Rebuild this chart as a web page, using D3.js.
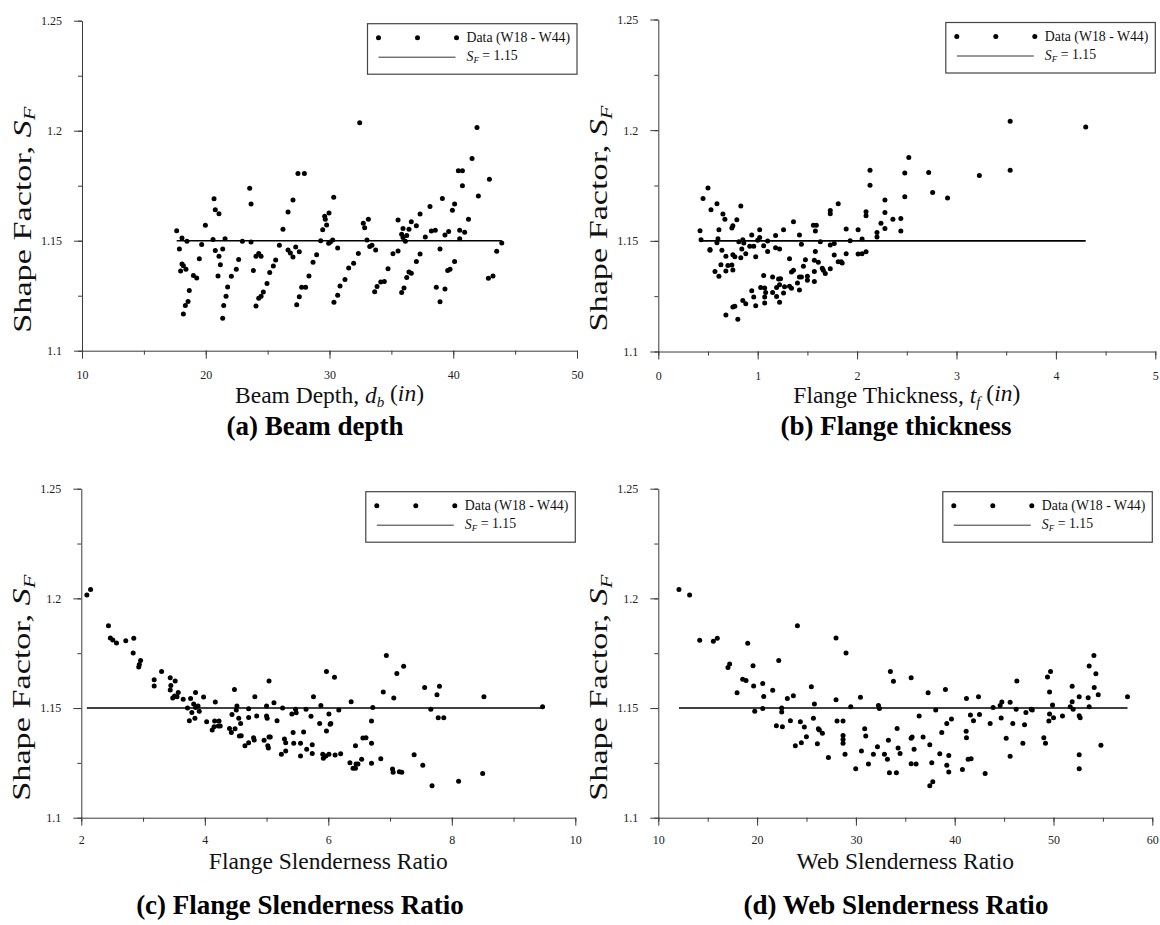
<!DOCTYPE html>
<html>
<head>
<meta charset="utf-8">
<script src="https://cdn.jsdelivr.net/npm/d3@7"></script>
<style>
  body { margin: 0; background: #fff; }
  svg { display: block; font-family: "Liberation Serif", "Times New Roman", serif; }
</style>
</head>
<body>
<svg id="chart" width="1160" height="925"></svg>
<script>
// ---- Shape factor data, W18 - W44 sections ----
// (a) beam depth d_b (in)
const depthX = [17.65,17.87,18.08,17.97,18.08,18.19,18.19,18.40,18.35,18.48,18.57,18.67,19.00,19.27,19.48,19.67,19.97,
  20.59,20.77,20.67,20.77,21.07,21.07,21.18,20.99,21.37,21.56,21.45,21.37,21.64,21.77,22.07,22.47,22.66,22.96,
  23.55,23.66,23.66,23.85,24.06,24.06,24.28,24.47,24.28,24.47,24.65,24.95,25.17,25.46,25.65,25.95,26.24,
  26.65,27.05,26.65,26.84,27.05,27.27,27.56,27.45,27.97,27.35,27.56,27.75,28.07,28.34,28.67,28.96,29.29,
  29.45,29.61,29.66,29.77,29.96,29.93,30.07,30.26,30.34,30.66,30.36,30.66,30.85,31.25,31.55,31.95,32.33,32.44,
  32.73,32.84,33.14,33.03,33.25,33.43,33.73,33.65,33.84,34.14,34.43,34.73,35.13,35.54,35.54,
  35.83,35.94,35.94,36.13,36.24,36.42,36.61,37.02,37.32,35.83,36.02,36.24,36.42,36.61,37.02,37.32,37.74,38.12,
  38.23,38.55,38.93,39.12,38.63,38.93,39.33,39.33,39.63,39.55,39.74,40.11,39.93,40.11,40.52,40.52,40.92,40.41,
  40.74,40.74,41.23,41.52,41.92,42.03,42.92,42.84,43.21,43.51,43.92];
const depthSF = [1.1545,1.1462,1.1512,1.1362,1.1394,1.1386,1.1167,1.1370,1.1206,1.1497,1.1224,1.1274,1.1342,1.1330,1.1418,1.1483,1.1570,
  1.1506,1.1455,1.1691,1.1641,1.1623,1.1429,1.1391,1.1339,1.1462,1.1509,1.1206,1.1147,1.1247,1.1289,1.1338,1.1370,1.1415,1.1497,
  1.1738,1.1667,1.1494,1.1364,1.1203,1.1429,1.1442,1.1429,1.1238,1.1247,1.1267,1.1305,1.1356,1.1385,1.1412,1.1479,1.1552,
  1.1630,1.1685,1.1458,1.1444,1.1426,1.1471,1.1450,1.1806,1.1806,1.1209,1.1245,1.1288,1.1288,1.1339,1.1402,1.1436,1.1500,
  1.1550,1.1611,1.1598,1.1571,1.1626,1.1488,1.1494,1.1503,1.1697,1.1467,1.1220,1.1252,1.1294,1.1324,1.1376,1.1397,1.1442,1.2036,
  1.1579,1.1559,1.1598,1.1503,1.1474,1.1479,1.1458,1.1268,1.1292,1.1312,1.1315,1.1373,1.1441,1.1453,1.1594,
  1.1529,1.1555,1.1515,1.1497,1.1524,1.1552,1.1586,1.1568,1.1621,1.1265,1.1285,1.1333,1.1358,1.1352,1.1406,1.1439,1.1517,1.1656,
  1.1544,1.1548,1.1462,1.1692,1.1288,1.1223,1.1280,1.1526,1.1542,1.1364,1.1370,1.1406,1.1638,1.1667,1.1548,1.1509,1.1538,1.1818,
  1.1818,1.1750,1.1597,1.1874,1.2014,1.1703,1.1779,1.1329,1.1339,1.1452,1.1490];

// (b) flange thickness t_f (in)
const flangeTX = [0.42,0.43,0.45,0.50,0.52,0.52,0.53,0.57,0.59,0.59,0.61,0.60,0.61,0.63,0.64,0.65,0.67,0.68,0.68,0.68,
  0.70,0.74,0.75,0.74,0.75,0.75,0.75,0.77,0.77,0.79,0.80,0.81,0.83,0.83,0.84,0.85,0.86,0.85,0.88,0.88,
  0.92,0.94,0.94,0.96,0.96,0.98,0.98,1.00,1.02,1.02,1.03,1.06,1.06,1.07,1.07,1.07,1.08,1.10,1.10,
  1.15,1.15,1.18,1.18,1.19,1.19,1.21,1.22,1.22,1.22,1.23,1.26,1.26,1.27,1.32,1.32,1.34,1.34,1.36,1.36,
  1.40,1.42,1.42,1.42,1.44,1.44,1.46,1.48,1.50,1.50,1.57,1.57,1.57,1.58,1.56,1.59,1.58,1.61,1.63,1.65,1.66,1.68,
  1.73,1.73,1.73,1.73,1.77,1.77,1.81,1.81,1.85,1.84,1.89,1.89,1.93,2.01,2.01,2.05,2.05,2.09,2.09,2.09,
  2.13,2.13,2.20,2.20,2.24,2.28,2.28,2.28,2.36,2.44,2.44,2.48,2.48,2.52,2.72,2.76,2.91,3.23,3.54,3.54,4.30];
const flangeTSF = [1.1546,1.1505,1.1691,1.1739,1.1461,1.1457,1.1640,1.1361,1.1667,1.1491,1.1550,1.1509,1.1340,1.1392,1.1457,1.1621,1.1598,1.1364,1.1165,1.1430,
  1.1389,1.1558,1.1568,1.1391,1.1437,1.1368,1.1201,1.1204,1.1428,1.1595,1.1146,1.1496,1.1657,1.1424,1.1463,1.1505,1.1490,1.1230,1.1216,1.1442,
  1.1475,1.1526,1.1274,1.1246,1.1475,1.1207,1.1428,1.1503,1.1515,1.1550,1.1289,1.1343,1.1478,1.1287,1.1246,1.1219,1.1267,1.1452,1.1499,
  1.1267,1.1337,1.1524,1.1469,1.1249,1.1289,1.1328,1.1222,1.1463,1.1302,1.1329,1.1264,1.1550,1.1292,1.1295,1.1419,1.1286,1.1359,1.1367,1.1586,
  1.1310,1.1278,1.1526,1.1337,1.1484,1.1337,1.1385,1.1415,1.1340,1.1322,1.1316,1.1361,1.1412,1.1452,1.1570,1.1570,1.1544,1.1403,1.1496,1.1376,1.1367,1.1352,
  1.1374,1.1481,1.1622,1.1637,1.1488,1.1436,1.1667,1.1406,1.1400,1.1406,1.1553,1.1442,1.1500,1.1550,1.1440,1.1508,1.1442,1.1631,1.1613,1.1451,
  1.1819,1.1751,1.1538,1.1517,1.1579,1.1685,1.1628,1.1556,1.1598,1.1601,1.1544,1.1806,1.1699,1.1876,1.1809,1.1718,1.1693,1.1795,1.2040,1.1819,1.2014];

// (c) flange slenderness ratio
const flangeSlX = [2.09,2.15,2.44,2.47,2.51,2.57,2.72,2.85,2.84,2.96,2.94,2.93,3.18,3.18,3.30,3.44,3.45,3.44,3.52,3.48,3.51,3.57,3.55,
  3.65,3.77,3.72,3.85,3.82,3.79,3.85,3.89,3.91,3.75,3.84,3.98,4.03,4.17,4.12,4.15,4.16,4.23,4.22,4.25,
  4.40,4.43,4.44,4.48,4.49,4.52,4.51,4.55,4.58,4.56,4.59,4.65,4.71,4.71,4.71,4.81,4.79,4.80,4.84,4.96,
  5.00,5.00,5.01,5.04,5.04,5.06,5.02,5.03,5.12,5.17,5.26,5.24,5.29,5.31,5.31,5.41,5.47,5.48,5.43,5.44,
  5.55,5.55,5.60,5.64,5.65,5.72,5.74,5.74,5.76,5.86,5.88,5.91,5.92,5.96,6.01,5.97,5.97,6.01,6.03,6.04,
  6.10,6.11,6.17,6.20,6.35,6.37,6.40,6.44,6.45,6.48,6.44,6.54,6.56,6.61,6.70,6.70,6.70,6.72,6.85,6.89,6.94,
  7.04,7.05,7.06,7.11,7.15,7.19,7.22,7.39,7.53,7.56,7.66,7.68,7.76,7.80,7.78,7.87,8.11,8.50,8.52,9.47];
const flangeSlSF = [1.2015,1.2040,1.1875,1.1819,1.1810,1.1796,1.1807,1.1818,1.1751,1.1717,1.1699,1.1687,1.1629,1.1600,1.1667,1.1638,1.1603,1.1582,1.1623,1.1546,1.1555,1.1571,1.1552,
  1.1540,1.1543,1.1500,1.1571,1.1518,1.1480,1.1503,1.1509,1.1485,1.1442,1.1453,1.1550,1.1438,1.1527,1.1400,1.1415,1.1441,1.1441,1.1418,1.1418,
  1.1407,1.1388,1.1470,1.1585,1.1406,1.1509,1.1491,1.1453,1.1430,1.1372,1.1374,1.1328,1.1342,1.1497,1.1457,1.1552,1.1365,1.1354,1.1464,1.1353,
  1.1509,1.1464,1.1453,1.1623,1.1368,1.1368,1.1328,1.1318,1.1524,1.1442,1.1500,1.1289,1.1359,1.1342,1.1304,1.1473,1.1495,1.1479,1.1389,1.1339,
  1.1339,1.1281,1.1391,1.1494,1.1312,1.1462,1.1333,1.1293,1.1552,1.1429,1.1512,1.1289,1.1271,1.1281,1.1289,1.1667,1.1395,1.1473,1.1426,1.1430,
  1.1640,1.1286,1.1491,1.1292,1.1251,1.1529,1.1225,1.1225,1.1245,1.1245,1.1328,1.1267,1.1363,1.1365,1.1248,1.1339,1.1441,1.1503,1.1269,1.1573,1.1740,
  1.1222,1.1207,1.1546,1.1658,1.1210,1.1207,1.1691,1.1287,1.1239,1.1594,1.1495,1.1146,1.1561,1.1599,1.1456,1.1456,1.1166,1.1202,1.1552,1.1506];

// (d) web slenderness ratio
const webSlX = [12.09,13.17,14.19,15.57,15.97,17.05,17.22,17.97,18.54,18.88,19.05,19.59,19.65,19.76,20.57,20.67,20.57,21.58,21.95,22.19,
  22.49,22.49,22.56,23.06,23.37,23.67,23.87,24.08,24.38,24.48,24.78,24.99,25.49,25.70,25.80,26.10,26.20,26.30,26.61,27.22,
  27.99,27.99,28.09,28.70,28.70,28.70,28.70,28.90,29.00,29.48,29.98,30.46,30.56,30.89,31.00,31.27,31.77,32.18,32.28,32.38,
  32.89,33.19,33.29,33.39,33.49,33.80,34.10,34.17,34.27,34.47,35.59,35.59,35.69,35.89,35.59,36.09,36.40,36.80,37.31,37.48,
  37.48,37.78,37.68,38.08,38.49,38.69,39.06,39.20,39.20,39.40,39.40,39.67,40.78,41.16,41.19,41.19,41.36,41.66,41.59,41.90,
  42.41,42.51,43.08,43.59,43.89,44.60,44.70,44.77,45.21,45.61,45.61,45.88,46.22,46.29,46.90,47.07,47.21,47.75,47.85,
  49.02,49.19,49.39,49.70,49.60,49.60,49.53,49.90,50.00,50.91,51.69,51.89,51.89,51.99,
  52.60,52.60,52.70,52.60,52.60,53.51,53.61,53.61,54.09,54.29,54.12,54.53,54.80,57.49];
const webSlSF = [1.2040,1.2015,1.1809,1.1805,1.1818,1.1685,1.1701,1.1570,1.1631,1.1626,1.1795,1.1693,1.1600,1.1485,1.1612,1.1553,1.1498,1.1581,1.1419,1.1717,
  1.1500,1.1482,1.1415,1.1544,1.1442,1.1556,1.1328,1.1875,1.1438,1.1342,1.1413,1.1369,1.1597,1.1453,1.1518,1.1337,1.1406,1.1400,1.1385,1.1275,
  1.1819,1.1538,1.1441,1.1441,1.1375,1.1357,1.1339,1.1289,1.1751,1.1506,1.1223,1.1549,1.1304,1.1406,1.1372,1.1245,1.1289,1.1324,1.1511,1.1498,
  1.1289,1.1267,1.1353,1.1205,1.1667,1.1622,1.1205,1.1407,1.1318,1.1293,1.1638,1.1362,1.1368,1.1312,1.1246,1.1245,1.1464,1.1368,1.1570,1.1333,
  1.1146,1.1164,1.1251,1.1491,1.1292,1.1389,1.1585,1.1430,1.1239,1.1284,1.1208,1.1450,1.1220,1.1394,1.1365,1.1543,1.1267,1.1269,1.1468,1.1442,
  1.1552,1.1471,1.1202,1.1430,1.1502,1.1512,1.1454,1.1527,1.1362,1.1526,1.1280,1.1430,1.1494,1.1623,1.1339,1.1424,1.1480,1.1494,1.1491,
  1.1365,1.1339,1.1641,1.1667,1.1573,1.1473,1.1441,1.1514,1.1456,1.1464,1.1506,1.1599,1.1529,1.1494,
  1.1552,1.1465,1.1456,1.1287,1.1223,1.1547,1.1506,1.1692,1.1740,1.1656,1.1594,1.1561,1.1330,1.1552];

// reference shape factor
const sfRef = 1.15;

// axis tick values and labels
const yTickValues = [1.1, 1.15, 1.2, 1.25];
const yTickLabels = ["1.1", "1.15", "1.2", "1.25"];
const depthTicks = [10, 20, 30, 40, 50];
const flangeTTicks = [0, 1, 2, 3, 4, 5];
const flangeSlTicks = [2, 4, 6, 8, 10];
const webSlTicks = [10, 20, 30, 40, 50, 60];

// ---- layout ----
const svg = d3.select("#chart");
const axisColor = "#3a3a3a";

const panels = [
  { xs: depthX, ys: depthSF, ticks: depthTicks, minor: 5, left: 82, top: 20.7, w: 495, h: 330,
    tickPad: 12, titleY: 52.3, capY: 84, capX: 315,
    title: [["Beam Depth, "], ["d", "i"], ["b", "is"], [" ("], ["in", "i"], [")"]], caption: "(a) Beam depth" },
  { xs: flangeTX, ys: flangeTSF, ticks: flangeTTicks, minor: 0.5, left: 658.3, top: 19.5, w: 497, h: 332,
    tickPad: 12, titleY: 51.5, capY: 83.2, capX: 896,
    title: [["Flange Thickness, "], ["t", "i"], ["f", "is"], [" ("], ["in", "i"], [")"]], caption: "(b) Flange thickness" },
  { xs: flangeSlX, ys: flangeSlSF, ticks: flangeSlTicks, minor: 1, left: 81.3, top: 488.7, w: 494, h: 329,
    tickPad: 10, titleY: 51, capY: 96, capX: 300,
    title: [["Flange Slenderness Ratio"]], caption: "(c) Flange Slenderness Ratio" },
  { xs: webSlX, ys: webSlSF, ticks: webSlTicks, minor: 5, left: 658.3, top: 488.7, w: 494, h: 329,
    tickPad: 10, titleY: 51, capY: 96, capX: 896,
    title: [["Web Slenderness Ratio"]], caption: "(d) Web Slenderness Ratio" }
];

// write rich text segments: [text, style] with style i = italic, s = subscript
function richText(sel, segs, subSize) {
  segs.forEach((seg, k) => {
    const [txt, st = ""] = seg;
    const prevSub = k > 0 && (segs[k - 1][1] || "").includes("s");
    const t = sel.append("tspan").text(txt);
    if (st.includes("i")) t.attr("font-style", "italic");
    if (st.includes("s")) t.attr("font-size", subSize).attr("dy", "0.25em");
    else if (prevSub) t.attr("dy", "-0.25em");
  });
}

panels.forEach(p => {
  const g = svg.append("g").attr("transform", `translate(${p.left},${p.top})`);
  const xDom = [p.ticks[0], p.ticks[p.ticks.length - 1]];
  const x = d3.scaleLinear().domain(xDom).range([0, p.w]);
  const y = d3.scaleLinear().domain([1.1, 1.25]).range([p.h, 0]);

  // minor ticks
  const xMinor = d3.range(xDom[0], xDom[1] + 1e-9, p.minor);
  const yMinor = d3.range(1.1, 1.25 + 1e-9, 0.025);
  g.append("g").attr("transform", `translate(0,${p.h})`)
    .call(d3.axisBottom(x).tickValues(xMinor).tickSize(4).tickFormat(""))
    .call(a => a.select(".domain").remove());
  g.append("g")
    .call(d3.axisLeft(y).tickValues(yMinor).tickSize(4).tickFormat(""))
    .call(a => a.select(".domain").remove());

  // major axes
  const xa = g.append("g").attr("transform", `translate(0,${p.h})`)
    .call(d3.axisBottom(x).tickValues(p.ticks).tickSize(8).tickSizeOuter(0).tickPadding(p.tickPad)
      .tickFormat(d => String(d)));
  const ya = g.append("g")
    .call(d3.axisLeft(y).tickValues(yTickValues).tickSize(8).tickSizeOuter(0).tickPadding(12)
      .tickFormat((d, i) => yTickLabels[i]));
  [xa, ya].forEach(a => {
    a.selectAll("path, line").attr("stroke", axisColor);
    a.selectAll("text").attr("font-family", "Liberation Serif, serif").attr("font-size", 12).attr("fill", "#222");
  });
  g.selectAll("g line").attr("stroke", axisColor);

  // reference line S_F = 1.15 across the data range
  const [xmin, xmax] = d3.extent(p.xs);
  g.append("line")
    .attr("x1", x(xmin)).attr("x2", x(xmax))
    .attr("y1", y(sfRef)).attr("y2", y(sfRef))
    .attr("stroke", "#000").attr("stroke-width", 1.6);

  // data points
  g.append("g").selectAll("circle")
    .data(p.xs.map((v, i) => [v, p.ys[i]]))
    .join("circle")
    .attr("cx", d => x(d[0])).attr("cy", d => y(d[1]))
    .attr("r", 2.5).attr("fill", "#000");

  // legend
  const lg = g.append("g").attr("transform", `translate(${p.w - 209.5},3)`);
  lg.append("rect").attr("width", 209.5).attr("height", 50.5)
    .attr("fill", "#fff").attr("stroke", "#444").attr("stroke-width", 1.2);
  [11, 50, 89].forEach(cx => lg.append("circle").attr("cx", cx).attr("cy", 14).attr("r", 2.5).attr("fill", "#000"));
  lg.append("text").attr("x", 99).attr("y", 18.3).attr("font-size", 13.8).attr("fill", "#111")
    .text("Data (W18 - W44)");
  lg.append("line").attr("x1", 11).attr("x2", 88).attr("y1", 33.5).attr("y2", 33.5)
    .attr("stroke", "#333").attr("stroke-width", 1);
  const lt = lg.append("text").attr("x", 99).attr("y", 37.5).attr("font-size", 13.8).attr("fill", "#111");
  richText(lt, [["S", "i"], ["F", "is"], [" = 1.15"]], 9);

  // x axis title
  const xt = g.append("text").attr("x", p.w / 2).attr("y", p.h + p.titleY)
    .attr("text-anchor", "middle").attr("font-size", 23.5).attr("fill", "#111");
  richText(xt, p.title, 15);

  // y axis title
  const yt = g.append("text")
    .attr("transform", `translate(-51,199) rotate(-90)`)
    .attr("text-anchor", "middle").attr("font-size", 26).attr("fill", "#111")
    .attr("textLength", 226).attr("lengthAdjust", "spacingAndGlyphs");
  richText(yt, [["Shape Factor, "], ["S", "i"], ["F", "is"]], 17);

  // panel caption
  g.append("text").attr("x", p.capX - p.left).attr("y", p.h + p.capY)
    .attr("text-anchor", "middle").attr("font-size", 27).attr("font-weight", "bold").attr("fill", "#000")
    .text(p.caption);
});
</script>
</body>
</html>
